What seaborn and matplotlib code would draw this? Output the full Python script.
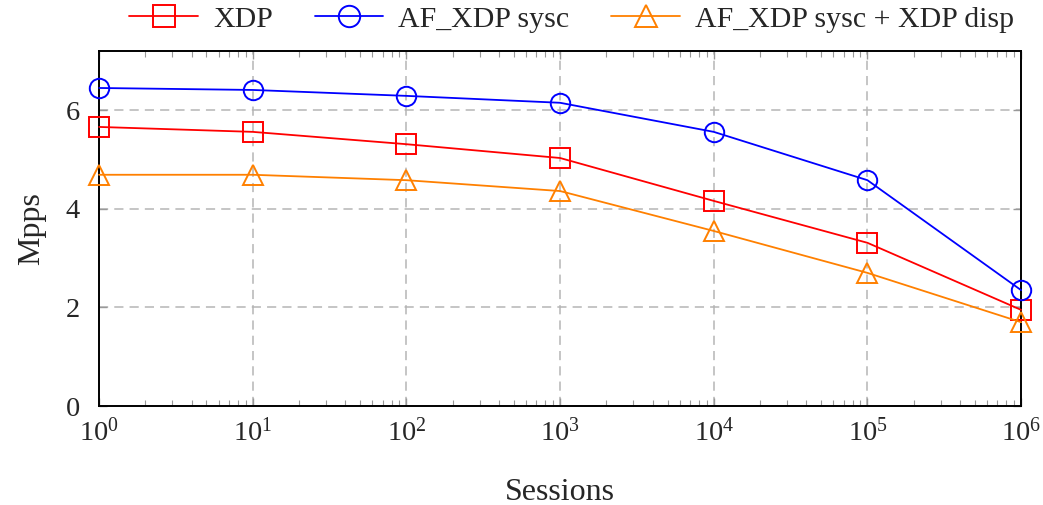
import numpy as np
import pandas as pd
import matplotlib
matplotlib.use("Agg")
import matplotlib.pyplot as plt
import matplotlib.ticker as mticker
import seaborn as sns

sessions = [1, 10, 100, 1000, 10000, 100000, 1000000]
xdp = [5.66, 5.56, 5.31, 5.03, 4.16, 3.31, 1.95]
af_xdp_sysc = [6.45, 6.41, 6.29, 6.15, 5.56, 4.58, 2.35]
af_xdp_disp = [4.69, 4.69, 4.58, 4.36, 3.55, 2.70, 1.70]

series_names = ["XDP", "AF_XDP sysc", "AF_XDP sysc + XDP disp"]
series_values = [xdp, af_xdp_sysc, af_xdp_disp]
colors = ["#ff0000", "#0000ff", "#ff8000"]
markers = ["s", "o", "^"]

sns.set_style("ticks")
plt.rcParams["font.family"] = ["Liberation Serif", "DejaVu Serif"]
plt.rcParams["mathtext.fontset"] = "custom"
plt.rcParams["mathtext.rm"] = "Liberation Serif"
plt.rcParams["mathtext.it"] = "Liberation Serif:italic"

fig = plt.figure(figsize=(10.43, 5.05), dpi=100)
ax = fig.add_axes([0.095, 0.196, 0.884, 0.703])

for name, vals, c, m in zip(series_names, series_values, colors, markers):
    df = pd.DataFrame({"Sessions": sessions, "Mpps": vals})
    sns.lineplot(data=df, x="Sessions", y="Mpps", ax=ax, color=c, marker=m,
                 markersize=14, markerfacecolor="none", markeredgecolor=c,
                 markeredgewidth=1.4, linewidth=1.3, label=name, clip_on=False,
                 zorder=3)

ax.set_xscale("log")
ax.set_xlim(1, 1e6)
ax.set_ylim(0, 7.2)
ax.set_yticks([0, 2, 4, 6])
ax.set_xticks(sessions)
ax.xaxis.set_minor_locator(mticker.LogLocator(base=10, subs=np.arange(2, 10), numticks=10))
ax.xaxis.set_minor_formatter(mticker.NullFormatter())

ax.grid(True, which="major", color="#b5b5b5", linestyle=(0, (6, 4)), linewidth=1.1)
ax.tick_params(which="both", direction="in", top=True, right=True, labelsize=20.5,
               color="#999999")
ax.tick_params(which="major", length=6, width=1)
ax.tick_params(which="minor", length=4, width=0.8)
ax.tick_params(axis="x", pad=9)
ax.tick_params(axis="y", pad=14)
for s in ax.spines.values():
    s.set_linewidth(1.4)
    s.set_color("black")

ax.set_xlabel("Sessions", fontsize=23, labelpad=22)
ax.set_ylabel("Mpps", fontsize=23, labelpad=14)

handles, labels = ax.get_legend_handles_labels()
ax.legend(handles, labels, loc="center", bbox_to_anchor=(0.548, 0.962),
          bbox_transform=fig.transFigure, ncol=3, frameon=False, fontsize=21.5,
          handlelength=2.3, columnspacing=1.4, handletextpad=0.5, markerscale=1.1)

fig.savefig("out.png", dpi=100)
